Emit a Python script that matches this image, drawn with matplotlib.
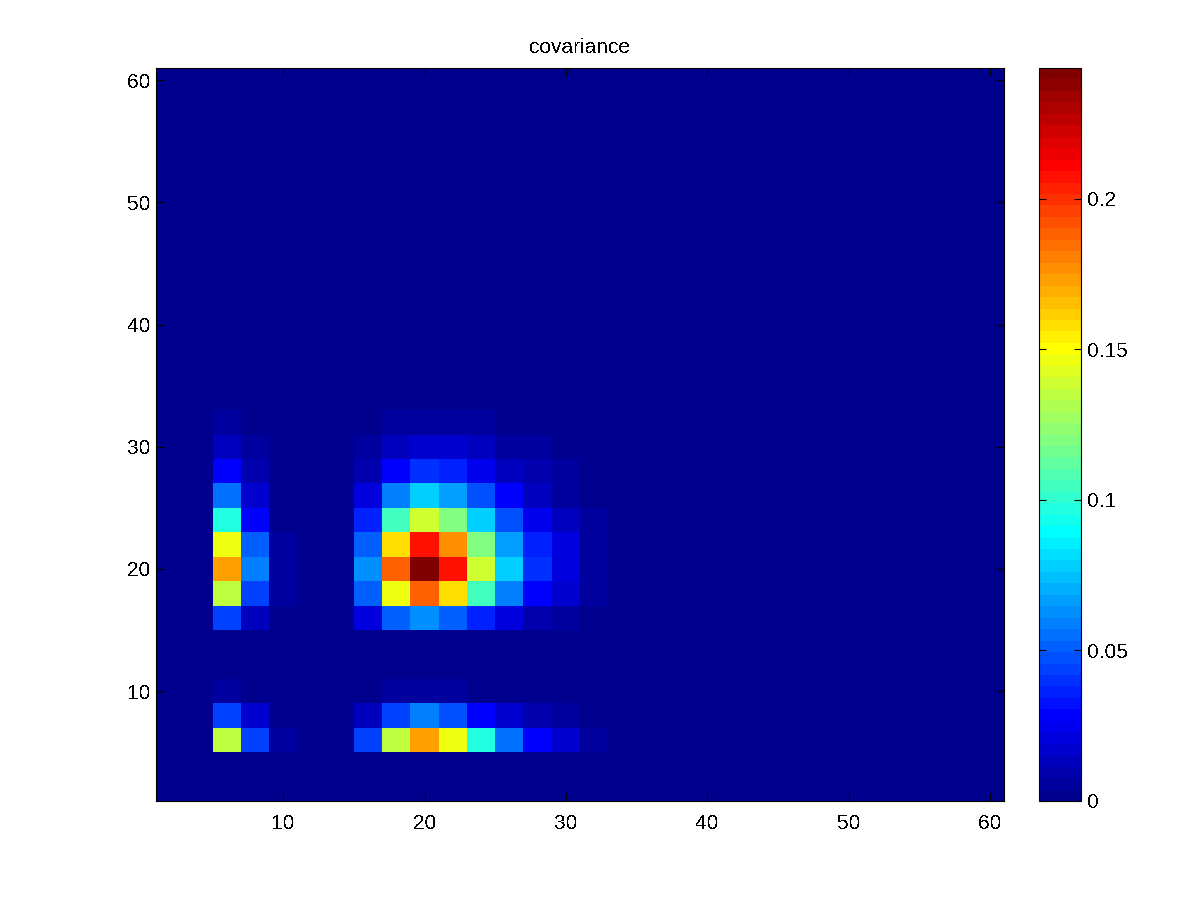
import numpy as np
import matplotlib
matplotlib.use("Agg")
import matplotlib.pyplot as plt
from matplotlib.colors import ListedColormap, Normalize

plt.rcParams['font.family'] = ['Liberation Sans', 'DejaVu Sans']
plt.rcParams['font.size'] = 15
plt.rcParams['text.antialiased'] = False

# cell edges, every cell is 2 units wide
x_edges = list(range(1, 62, 2))
y_edges = list(range(1, 62, 2))

# values, columns start at x = 5, 7, ... 31
first_col = 5
row_5  = [.1349, .0437, .0057, 0, 0, .0437, .1349, .1729, .1463, .0969, .0551, .0285, .0171, .0057]
row_7  = [.0437, .0171, 0, 0, 0, .0133, .0437, .0589, .0475, .0285, .0171, .0095, .0057, 0]
row_9  = [.0057, 0, 0, 0, 0, 0, .0057, .0057, .0057, 0, 0, 0, 0, 0]
row_15 = [.0437, .0133, 0, 0, 0, .0209, .0513, .0627, .0513, .0361, .0228, .0095, .0057, 0]
row_17 = [.1349, .0437, .0057, 0, 0, .0513, .1463, .1881, .1577, .1045, .0589, .0285, .0171, .0057]
row_19 = [.1729, .0589, .0057, 0, 0, .0627, .1881, .2435, .2071, .1387, .0779, .0399, .0209, .0057]
row_21 = [.1463, .0513, .0057, 0, 0, .0513, .1577, .2071, .1767, .1197, .0665, .0361, .0209, .0057]
row_23 = [.0969, .0285, 0, 0, 0, .0361, .1045, .1387, .1197, .0779, .0475, .0247, .0133, .0057]
row_25 = [.0551, .0171, 0, 0, 0, .0209, .0589, .0779, .0665, .0475, .0285, .0133, .0057, 0]
row_27 = [.0285, .0095, 0, 0, 0, .0095, .0285, .0399, .0361, .0247, .0152, .0114, .0057, 0]
row_29 = [.0133, .0057, 0, 0, 0, .0057, .0133, .0171, .0171, .0133, .0076, .0076, .0019, 0]
row_31 = [.0057, 0, 0, 0, 0, 0, .0057, .0057, .0057, .0057, 0, 0, 0, 0]

rows = {5: row_5, 7: row_7, 9: row_9, 15: row_15, 17: row_17, 19: row_19,
        21: row_21, 23: row_23, 25: row_25, 27: row_27, 29: row_29, 31: row_31}

vmax = 0.2435
colorbar_ticks = [0, 0.05, 0.1, 0.15, 0.2]
colorbar_labels = ['0', '0.05', '0.1', '0.15', '0.2']
axis_ticks = [10, 20, 30, 40, 50, 60]


def matlab_jet(m=64):
    # old matlab jet, starts a bit lighter than the matplotlib one
    n = int(np.ceil(m / 4))
    u = np.r_[np.arange(1, n + 1) / n, np.ones(n - 1), np.arange(n, 0, -1) / n]
    g = int(np.ceil(n / 2)) - (m % 4 == 1) + np.arange(1, len(u) + 1)
    r = g + n
    b = g - n
    g = g[g <= m]
    r = r[r <= m]
    b = b[b >= 1]
    J = np.zeros((m, 3))
    J[r - 1, 0] = u[:len(r)]
    J[g - 1, 1] = u[:len(g)]
    J[b - 1, 2] = u[-len(b):]
    return ListedColormap(J)


cov = np.zeros((len(y_edges) - 1, len(x_edges) - 1))
for y0, vals in rows.items():
    i = (y0 - 1) // 2
    j = (first_col - 1) // 2
    cov[i, j:j + len(vals)] = vals

fig = plt.figure(figsize=(12, 9), dpi=100)
ax = fig.add_axes([156 / 1200, 99 / 900, 848 / 1200, 733 / 900])
mesh = ax.pcolormesh(x_edges, y_edges, cov, cmap=matlab_jet(),
                     norm=Normalize(0, vmax), antialiased=False)
ax.set_xlim(1, 61)
ax.set_ylim(1, 61)
ax.set_xticks(axis_ticks)
ax.set_yticks(axis_ticks)
ax.tick_params(direction='in', top=True, right=True, length=6, width=0.8, labelsize=15)
ax.tick_params(axis='x', pad=9.5)
ax.tick_params(axis='y', pad=4)
ax.set_title('covariance', fontsize=15, pad=11)

cax = fig.add_axes([1039 / 1200, 99 / 900, 42 / 1200, 733 / 900])
cb = fig.colorbar(mesh, cax=cax)
cb.set_ticks(colorbar_ticks)
cb.set_ticklabels(colorbar_labels)
cb.outline.set_linewidth(0.8)
cax.tick_params(direction='in', left=True, right=True, length=5.3, width=0.8, pad=4.5, labelsize=15)
cax.minorticks_off()

for a in (ax, cax):
    for s in a.spines.values():
        s.set_linewidth(0.8)

fig.savefig('out.png', dpi=100)
